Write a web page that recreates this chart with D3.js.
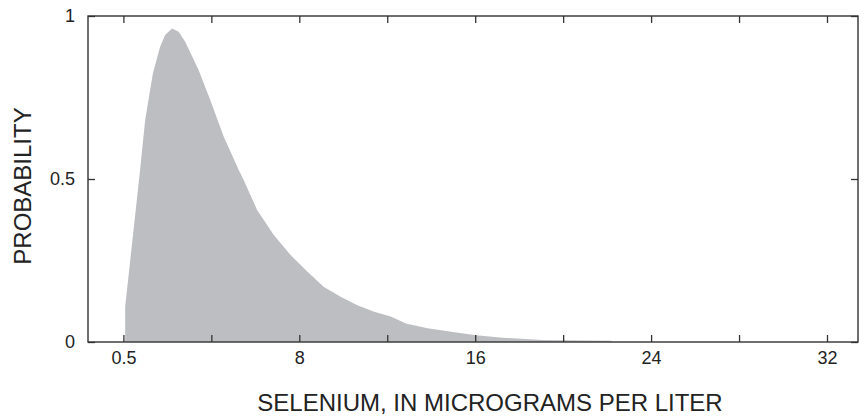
<!DOCTYPE html>
<html>
<head>
<meta charset="utf-8">
<script src="https://cdn.jsdelivr.net/npm/d3@7/dist/d3.min.js"></script>
<style>
  html, body { margin: 0; padding: 0; background: #fff; }
  text { font-family: "Liberation Sans", Arial, Helvetica, sans-serif; fill: #222; }
</style>
</head>
<body>
<svg id="chart" width="864" height="418"></svg>
<script>
// Data (x in axis units, y = probability)
const xValues = [0.08, 0.08, 0.76, 0.99, 1.34, 1.67, 1.90, 2.21, 2.51, 2.81, 3.42, 3.95, 4.56, 5.24, 5.47, 6.08, 6.84, 7.60, 8.36, 9.12, 9.88, 10.64, 11.40, 12.16, 12.85, 13.83, 15.13, 16.04, 17.25, 19.08, 22.2, 22.2];
const yValues = [0.0, 0.108, 0.528, 0.681, 0.824, 0.906, 0.942, 0.962, 0.952, 0.921, 0.834, 0.742, 0.630, 0.528, 0.497, 0.405, 0.328, 0.267, 0.216, 0.169, 0.139, 0.113, 0.093, 0.078, 0.057, 0.042, 0.029, 0.021, 0.013, 0.006, 0.004, 0.0];
const xTickValues = [0, 4, 8, 12, 16, 20, 24, 28, 32];
const xTickLabels = ["0.5", "", "8", "", "16", "", "24", "", "32"];
const yTickValues = [0, 0.5, 1];
const yTickLabels = ["0", "0.5", "1"];
const xTitle = "SELENIUM, IN MICROGRAMS PER LITER";
const yTitle = "PROBABILITY";

const margin = { left: 88, right: 6, top: 16, bottom: 76 };
const W = 864, H = 418;
const svg = d3.select("#chart");

const x = d3.scaleLinear().domain([-1.61, 33.41]).range([margin.left, W - margin.right]);
const y = d3.scaleLinear().domain([0, 1]).range([H - margin.bottom, margin.top]);

const data = xValues.map((v, i) => ({ x: v, y: yValues[i] }));

// area
svg.append("path")
  .datum(data)
  .attr("fill", "#bdbec2")
  .attr("d", d3.area().x(d => x(d.x)).y0(y(0)).y1(d => y(d.y)));

const axisColor = "#333";
const tickLen = 7;

function styleAxis(g) {
  g.select(".domain").remove();
  g.selectAll(".tick line").attr("stroke", axisColor).attr("stroke-width", 1.3);
}

// bottom axis (ticks inward)
svg.append("g")
  .attr("transform", `translate(0,${y(0)})`)
  .call(d3.axisBottom(x).tickValues(xTickValues).tickSizeInner(-tickLen).tickSizeOuter(0)
        .tickPadding(9).tickFormat((d, i) => xTickLabels[i]))
  .call(styleAxis)
  .call(g => g.selectAll(".tick text").attr("font-size", 18).attr("fill", "#222")
        .attr("font-family", "'Liberation Sans', Arial, sans-serif"));

// top axis (ticks inward, no labels)
svg.append("g")
  .attr("transform", `translate(0,${y(1)})`)
  .call(d3.axisTop(x).tickValues(xTickValues).tickSizeInner(-tickLen).tickSizeOuter(0).tickFormat(""))
  .call(styleAxis);

// left axis
svg.append("g")
  .attr("transform", `translate(${x.range()[0]},0)`)
  .call(d3.axisLeft(y).tickValues(yTickValues).tickSizeInner(-tickLen).tickSizeOuter(0)
        .tickPadding(13).tickFormat((d, i) => yTickLabels[i]))
  .call(styleAxis)
  .call(g => g.selectAll(".tick text").attr("font-size", 18).attr("fill", "#222")
        .attr("font-family", "'Liberation Sans', Arial, sans-serif"));

// right axis
svg.append("g")
  .attr("transform", `translate(${x.range()[1]},0)`)
  .call(d3.axisRight(y).tickValues(yTickValues).tickSizeInner(-tickLen).tickSizeOuter(0).tickFormat(""))
  .call(styleAxis);

// frame
svg.append("rect")
  .attr("x", x.range()[0]).attr("y", y(1))
  .attr("width", x.range()[1] - x.range()[0]).attr("height", y(0) - y(1))
  .attr("fill", "none").attr("stroke", axisColor).attr("stroke-width", 1.4);

// titles
svg.append("text")
  .attr("x", 490).attr("y", 411)
  .attr("text-anchor", "middle")
  .attr("font-size", 24)
  .text(xTitle);

svg.append("text")
  .attr("transform", "translate(31,186) rotate(-90)")
  .attr("text-anchor", "middle")
  .attr("font-size", 24)
  .text(yTitle);
</script>
</body>
</html>
